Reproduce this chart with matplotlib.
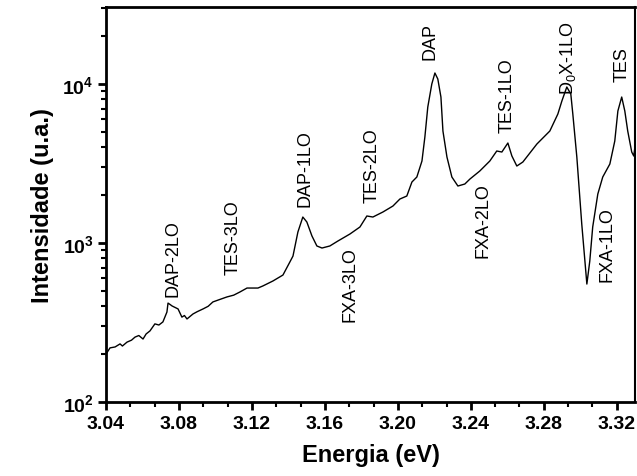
import numpy as np
import matplotlib
matplotlib.use("Agg")
import matplotlib.pyplot as plt
from matplotlib.ticker import MultipleLocator, LogLocator, NullFormatter, FixedLocator

plt.rcParams["font.family"] = ["Liberation Sans", "DejaVu Sans"]
plt.rcParams["mathtext.default"] = "regular"

# photoluminescence spectrum
energy = [3.0400, 3.0422, 3.0450, 3.0477, 3.0490, 3.0515, 3.0540, 3.0559, 3.0580,
          3.0603, 3.0620, 3.0641, 3.0668, 3.0690, 3.0712, 3.0734, 3.0740, 3.0752,
          3.0762, 3.0795, 3.0816, 3.0830, 3.0844, 3.0877, 3.0900, 3.0932, 3.0960,
          3.0986, 3.1020, 3.1063, 3.1100, 3.1134, 3.1173, 3.1233, 3.1260, 3.1315,
          3.1370, 3.1408, 3.1425, 3.1452, 3.1479, 3.1501, 3.1529, 3.1556, 3.1584,
          3.1627, 3.1671, 3.1737, 3.1792, 3.1830, 3.1863, 3.1918, 3.1973, 3.2011,
          3.2049, 3.2077, 3.2104, 3.2132, 3.2148, 3.2164, 3.2186, 3.2203, 3.2219,
          3.2236, 3.2247, 3.2269, 3.2296, 3.2329, 3.2367, 3.2395, 3.2449, 3.2504,
          3.2542, 3.2570, 3.2603, 3.2625, 3.2652, 3.2685, 3.2762, 3.2833, 3.2877,
          3.2899, 3.2926, 3.2948, 3.2959, 3.2981, 3.3008, 3.3036, 3.3052, 3.3068,
          3.3096, 3.3123, 3.3162, 3.3189, 3.3206, 3.3227, 3.3244, 3.3260, 3.3282,
          3.3293, 3.3304]
intensity = [200, 219, 222, 232, 225, 238, 245, 256, 262,
             249, 268, 280, 310, 305, 319, 368, 419, 410,
             402, 385, 342, 350, 333, 358, 370, 385, 400,
             426, 440, 458, 470, 492, 521, 521, 537, 577,
             629, 760, 828, 1173, 1457, 1356, 1107, 958, 930,
             958, 1029, 1139, 1261, 1479, 1457, 1567, 1709, 1891,
             1975, 2419, 2601, 3279, 4642, 7166, 10000, 11730, 10750,
             8283, 5063, 3474, 2601, 2283, 2350, 2526, 2837, 3279,
             3790, 3735, 4255, 3526, 3050, 3231, 4194, 5063, 6477,
             7818, 9575, 8650, 6477, 3474, 1317, 552, 770, 1261,
             2033, 2601, 3140, 4380, 6766, 8283, 6766, 5063, 3735,
             3526, 4380]

peak_names = ["DAP-2LO", "TES-3LO", "DAP-1LO", "TES-2LO", "FXA-3LO", "DAP",
              "FXA-2LO", "TES-1LO", r"D$_0$X-1LO", "TES", "FXA-1LO"]
peak_x = [3.0767, 3.1096, 3.1490, 3.1858, 3.1737, 3.2175,
          3.2466, 3.2597, 3.2931, 3.3227, 3.3145]
peak_y = [464, 638, 1709, 1811, 323, 14360,
          816, 4991, 8650, 10446, 577]

fig = plt.figure(figsize=(6.37, 4.77), dpi=100)
ax = fig.add_axes([0.1664, 0.1551, 0.8305, 0.8281])

ax.plot(energy, intensity, color="black", lw=1.0)

ax.set_yscale("log")
ax.set_xlim(3.04, 3.33)
ax.set_ylim(100, 30500)

ax.xaxis.set_major_locator(MultipleLocator(0.04))
ax.xaxis.set_minor_locator(MultipleLocator(0.04 / 3))
ax.xaxis.set_major_formatter(plt.FuncFormatter(lambda v, p: f"{v:.2f}"))
ax.yaxis.set_major_locator(FixedLocator([1e2, 1e3, 1e4]))
ax.yaxis.set_minor_locator(LogLocator(base=10, subs=np.arange(2, 10)))
ax.yaxis.set_minor_formatter(NullFormatter())
ax.set_yticklabels([r"$10^2$", r"$10^3$", r"$10^4$"])

ax.tick_params(which="major", direction="out", length=6, width=2,
               labelsize=14, pad=3, top=False, right=False)
ax.tick_params(which="minor", direction="out", length=3.5, width=1.5,
               top=False, right=False)
for lab in ax.get_xticklabels() + ax.get_yticklabels():
    lab.set_fontweight("bold")

for side in ["left", "bottom", "top"]:
    ax.spines[side].set_linewidth(2)
ax.spines["right"].set_linewidth(1.5)

ax.set_xlabel("Energia (eV)", fontsize=17, fontweight="bold", labelpad=8)
ax.set_ylabel("Intensidade (u.a.)", fontsize=17, fontweight="bold", labelpad=6)

for name, px, py in zip(peak_names, peak_x, peak_y):
    ax.text(px, py, name, rotation=90, ha="center", va="bottom", fontsize=13)

fig.savefig("out.png", dpi=100)
